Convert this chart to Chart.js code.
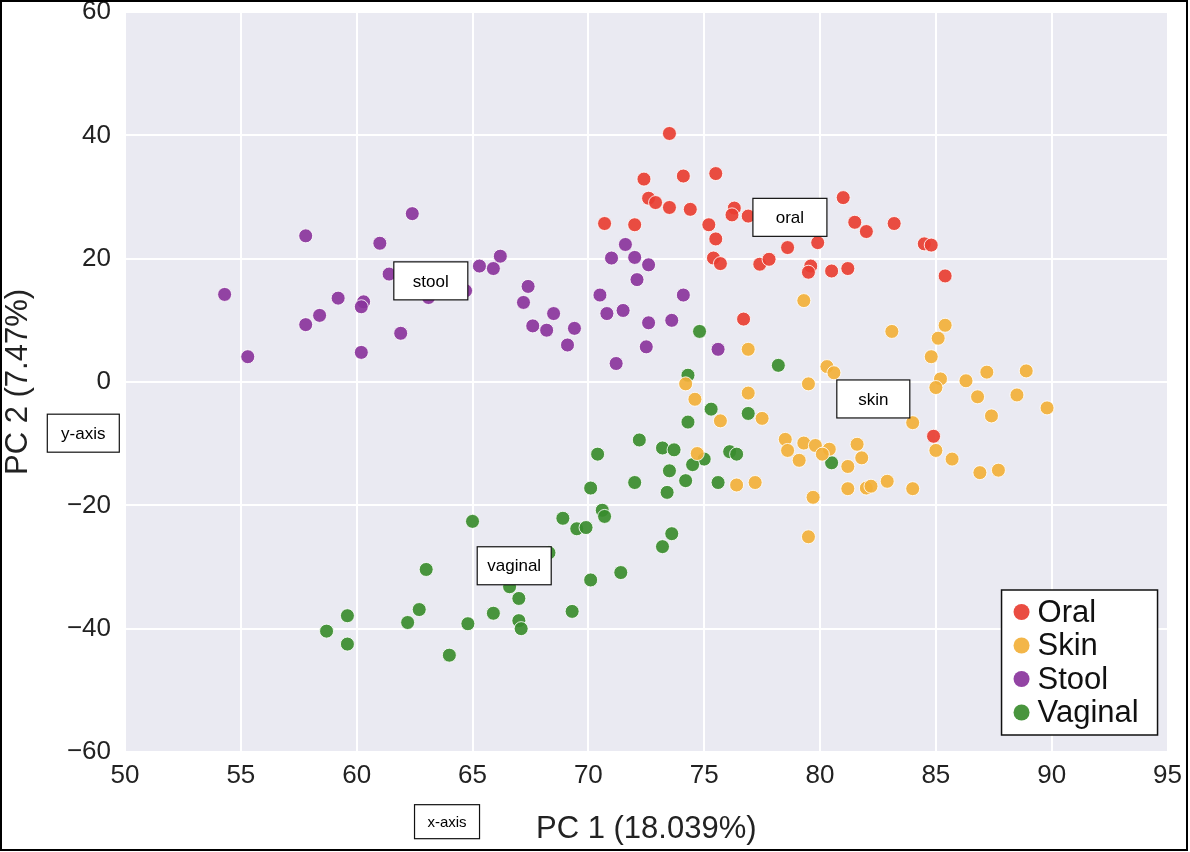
<!DOCTYPE html>
<html>
<head>
<meta charset="utf-8">
<script src="https://cdn.jsdelivr.net/npm/chart.js@4/dist/chart.umd.min.js"></script>
<style>
  body { margin: 0; background: #fff; }
  #wrap { width: 1190px; height: 852px; }
</style>
</head>
<body>
<div id="wrap"><canvas id="pcaChart" width="1190" height="852"></canvas></div>
<script>
// values (PC 1, PC 2)
const oralX = [73.5, 72.4, 74.1, 75.5, 72.6, 72.9, 73.5, 74.4, 76.3, 76.2, 76.9, 70.7, 72.0, 75.2, 75.5, 75.4, 75.7, 77.4, 77.8, 76.7, 81.0, 81.5, 82.0, 83.2, 78.6, 79.9, 79.6, 79.5, 80.5, 81.2, 84.5, 84.8, 85.4, 84.9];
const oralY = [40.3, 32.9, 33.4, 33.8, 29.8, 29.1, 28.3, 28.0, 28.2, 27.1, 26.9, 25.7, 25.5, 25.5, 23.2, 20.1, 19.2, 19.1, 19.9, 10.2, 29.9, 25.9, 24.4, 25.7, 21.8, 22.6, 18.8, 17.8, 18.0, 18.4, 22.4, 22.2, 17.2, -8.8];

const skinX = [79.3, 76.9, 74.2, 83.1, 85.4, 85.1, 84.8, 80.3, 80.6, 79.5, 85.2, 86.3, 87.2, 88.9, 85.0, 86.8, 88.5, 89.8, 87.4, 76.9, 75.7, 77.5, 84.0, 74.6, 78.5, 78.6, 79.3, 79.8, 80.4, 80.1, 79.1, 81.6, 81.8, 81.2, 85.0, 85.7, 86.9, 87.7, 76.4, 77.2, 79.7, 81.2, 82.0, 82.2, 82.9, 84.0, 79.5, 74.7];
const skinY = [13.2, 5.3, -0.3, 8.2, 9.2, 7.1, 4.1, 2.5, 1.5, -0.3, 0.5, 0.2, 1.6, 1.8, -0.9, -2.4, -2.1, -4.2, -5.5, -1.8, -6.3, -5.9, -6.6, -2.8, -9.3, -11.1, -9.9, -10.3, -10.9, -11.7, -12.7, -10.1, -12.3, -13.7, -11.1, -12.5, -14.7, -14.3, -16.7, -16.3, -18.7, -17.3, -17.2, -16.9, -16.1, -17.3, -25.1, -11.6];

const stoolX = [54.3, 55.3, 57.8, 57.8, 58.4, 59.2, 60.3, 60.2, 60.2, 61.0, 61.4, 61.9, 62.4, 63.1, 64.7, 65.3, 65.9, 66.2, 67.4, 67.2, 68.5, 67.6, 68.2, 69.4, 69.1, 70.5, 70.8, 71.5, 71.6, 71.0, 72.0, 72.6, 72.1, 72.6, 73.6, 72.5, 71.2, 74.1, 75.6];
const stoolY = [14.2, 4.1, 23.7, 9.3, 10.8, 13.6, 13.0, 12.2, 4.8, 22.5, 17.5, 7.9, 27.3, 13.7, 14.8, 18.8, 18.4, 20.4, 15.5, 12.9, 11.1, 9.1, 8.4, 8.7, 6.0, 14.1, 11.1, 11.6, 22.3, 20.1, 20.2, 19.0, 16.6, 9.6, 10.0, 5.7, 3.0, 14.1, 5.3];

const vaginalX = [74.8, 78.2, 74.3, 75.3, 76.9, 76.1, 76.4, 75.0, 80.5, 75.6, 74.3, 72.2, 73.2, 73.7, 70.4, 74.5, 73.5, 74.2, 72.0, 73.4, 70.1, 68.9, 69.5, 69.9, 70.6, 70.7, 73.6, 73.2, 65.0, 68.3, 63.0, 66.6, 67.0, 65.9, 69.3, 62.7, 62.2, 64.8, 67.0, 67.1, 59.6, 58.7, 59.6, 64.0, 71.4, 70.1];
const vaginalY = [8.2, 2.7, 1.1, -4.4, -5.1, -11.3, -11.7, -12.5, -13.1, -16.3, -6.5, -9.4, -10.7, -11.0, -11.7, -13.4, -14.4, -16.0, -16.3, -17.9, -17.2, -22.1, -23.8, -23.6, -20.8, -21.8, -24.6, -26.7, -22.6, -27.7, -30.4, -33.2, -35.1, -37.5, -37.2, -36.9, -39.0, -39.2, -38.7, -40.0, -37.9, -40.4, -42.5, -44.3, -30.9, -32.1];

const groupNames = ['Oral', 'Skin', 'Stool', 'Vaginal'];
const groupColors = ['rgba(232, 62, 50, 0.92)', 'rgba(242, 176, 58, 0.92)', 'rgba(138, 52, 156, 0.92)', 'rgba(58, 140, 46, 0.92)'];

const xTicks = [50, 55, 60, 65, 70, 75, 80, 85, 90, 95];
const yTicks = [-60, -40, -20, 0, 20, 40, 60];

// boxed notes: text, centre in data units, box size, font size
const notes = [
  { text: 'oral', x: 78.7, y: 26.7, w: 74, h: 38, size: 17 },
  { text: 'stool', x: 63.2, y: 16.4, w: 74, h: 38, size: 17 },
  { text: 'skin', x: 82.3, y: -2.75, w: 73, h: 38, size: 17 },
  { text: 'vaginal', x: 66.8, y: -29.8, w: 74, h: 38, size: 17 },
  { text: 'y-axis', x: 48.2, y: -8.3, w: 72, h: 38, size: 17 },
  { text: 'x-axis', x: 63.9, y: -71.3, w: 65, h: 34, size: 15 }
];

// pairs two arrays into {x, y} points
function toPoints(xs, ys){
  return xs.map((x, i) => ({ x: x, y: ys[i] }));
}

const fontFam = '"Liberation Sans", Arial, Helvetica, sans-serif';

function minusLabel(v){
  return v < 0 ? '\u2212' + Math.abs(v) : String(v);
}

// grey panel behind the points, plus the frame round the picture
const panelPlugin = {
  id: 'panel',
  beforeDraw(chart){
    const ctx = chart.ctx;
    const a = chart.chartArea;
    ctx.save();
    ctx.fillStyle = '#fff';
    ctx.fillRect(0, 0, chart.width, chart.height);
    ctx.fillStyle = '#eaeaf2';
    ctx.fillRect(a.left, a.top, a.right - a.left, a.bottom - a.top);
    ctx.restore();
  },
  afterDraw(chart){
    const ctx = chart.ctx;
    ctx.save();
    ctx.strokeStyle = '#000';
    ctx.lineWidth = 2;
    ctx.strokeRect(1, 1, chart.width - 4, chart.height - 3);
    ctx.restore();
  }
};

// text boxes and the legend drawn on top
const notesPlugin = {
  id: 'notes',
  afterDatasetsDraw(chart){
    const ctx = chart.ctx;
    const xs = chart.scales.x;
    const ys = chart.scales.y;
    ctx.save();
    ctx.textAlign = 'center';
    ctx.textBaseline = 'middle';
    notes.forEach(n => {
      const cx = xs.getPixelForValue(n.x);
      const cy = ys.getPixelForValue(n.y);
      ctx.fillStyle = '#fff';
      ctx.fillRect(cx - n.w / 2, cy - n.h / 2, n.w, n.h);
      ctx.strokeStyle = '#111';
      ctx.lineWidth = 1.2;
      ctx.strokeRect(cx - n.w / 2, cy - n.h / 2, n.w, n.h);
      ctx.fillStyle = '#000';
      ctx.font = n.size + 'px ' + fontFam;
      ctx.fillText(n.text, cx, cy + 1);
    });

    // legend box in lower right of the panel
    const a = chart.chartArea;
    const boxR = a.right - 10;
    const boxB = a.bottom - 17;
    const boxW = 156, boxH = 145;
    ctx.fillStyle = '#fff';
    ctx.fillRect(boxR - boxW, boxB - boxH, boxW, boxH);
    ctx.strokeStyle = '#111';
    ctx.lineWidth = 1.5;
    ctx.strokeRect(boxR - boxW, boxB - boxH, boxW, boxH);
    ctx.font = '31px ' + fontFam;
    ctx.textAlign = 'left';
    chart.data.datasets.forEach((ds, i) => {
      const y = boxB - boxH + 22 + i * 33.5;
      ctx.beginPath();
      ctx.arc(boxR - boxW + 20, y, 8, 0, Math.PI * 2);
      ctx.fillStyle = ds.backgroundColor;
      ctx.fill();
      ctx.fillStyle = '#111';
      ctx.fillText(ds.label, boxR - boxW + 36, y + 1);
    });
    ctx.restore();
  }
};

const seriesX = [oralX, skinX, stoolX, vaginalX];
const seriesY = [oralY, skinY, stoolY, vaginalY];

const datasets = groupNames.map((name, i) => ({
  label: name,
  data: toPoints(seriesX[i], seriesY[i]),
  backgroundColor: groupColors[i],
  borderColor: 'rgba(255,255,255,0.85)',
  borderWidth: 1,
  pointRadius: 7,
  pointHoverRadius: 7
}));

const config = {
  type: 'scatter',
  data: { datasets: datasets },
  options: {
    responsive: false,
    animation: false,
    layout: { autoPadding: false, padding: { top: 12, right: 20, left: 0, bottom: 0 } },
    plugins: {
      legend: { display: false },
      tooltip: { enabled: false }
    },
    scales: {
      x: {
        type: 'linear',
        min: 50,
        max: 95,
        afterBuildTicks: s => { s.ticks = xTicks.map(v => ({ value: v })); },
        afterFit: s => { s.height = 100; },
        grid: { color: '#fff', lineWidth: 2, drawTicks: false },
        border: { display: false },
        ticks: {
          padding: 8,
          color: '#222',
          font: { family: fontFam, size: 26 },
          callback: v => minusLabel(v),
          maxRotation: 0
        },
        title: {
          display: true,
          text: 'PC 1 (18.039%)',
          color: '#222',
          font: { family: fontFam, size: 31 },
          padding: { top: 0, bottom: 4 }
        }
      },
      y: {
        type: 'linear',
        min: -60,
        max: 60,
        afterBuildTicks: s => { s.ticks = yTicks.map(v => ({ value: v })); },
        afterFit: s => {
          s.width = 125;
          // the top label may hang over the panel edge, as in the picture
          s.paddingTop = 0;
          s.paddingBottom = 0;
        },
        grid: { color: '#fff', lineWidth: 2, drawTicks: false },
        border: { display: false },
        ticks: {
          padding: 14,
          color: '#222',
          font: { family: fontFam, size: 26 },
          callback: v => minusLabel(v)
        },
        title: {
          display: true,
          text: 'PC 2 (7.47%)',
          color: '#222',
          font: { family: fontFam, size: 31 },
          padding: { top: 0, bottom: 0 }
        }
      }
    }
  },
  plugins: [panelPlugin, notesPlugin]
};

new Chart(document.getElementById('pcaChart'), config);
</script>
</body>
</html>
